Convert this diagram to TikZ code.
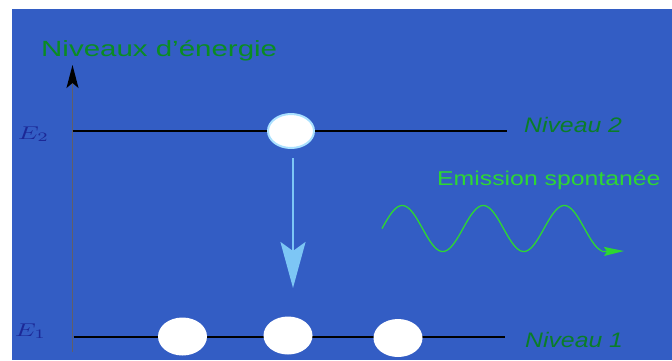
\documentclass[tikz,border=0pt]{standalone}
\usepackage{fontspec}
\setmainfont{Liberation Sans}
\usepackage{graphicx}
\usetikzlibrary{arrows.meta,shapes.geometric}
\definecolor{bgblue}{RGB}{51,93,196}
\definecolor{titlegreen}{RGB}{10,140,35}
\definecolor{levelgreen}{RGB}{10,125,40}
\definecolor{emitgreen}{RGB}{45,215,50}
\definecolor{elabel}{RGB}{28,40,150}
\definecolor{arrowblue}{RGB}{125,198,245}
\definecolor{glow}{RGB}{170,225,255}
\definecolor{axisgrey}{RGB}{95,95,105}
\newcommand{\hsx}[2]{\scalebox{#1}[1]{#2}}
\tikzset{
  lbl/.style={inner sep=0pt, anchor=base west},
  levelline/.style={draw=black, line width=1.8pt},
  electron/.style={ellipse, fill=white, inner sep=0pt, minimum width=49pt, minimum height=38pt},
  excited/.style={electron, draw=glow, line width=2pt, minimum width=46pt, minimum height=34pt},
}
\begin{document}
\begin{tikzpicture}[x=1pt,y=-1pt]
\useasboundingbox (0,0) rectangle (672,360);
\fill[bgblue] (12,9) rectangle (672,360);
% axis
\coordinate (ax0) at (72.5,352);
\coordinate (ax1) at (72.5,65);
\draw[axisgrey, line width=1.3pt, -{Stealth[length=23pt,width=12pt,inset=5pt,black]}] (ax0) -- (ax1);
\node[lbl, text=titlegreen, font=\fontsize{22}{26}\selectfont] (title) at (41,56.5) {\hsx{1.34}{Niveaux d’énergie}};
% levels
\coordinate (l2a) at (72.5,131);
\coordinate (l2b) at (507,131);
\coordinate (l1a) at (73.5,337);
\coordinate (l1b) at (505,337);
\draw[levelline] (l2a) -- (l2b);
\draw[levelline] (l1a) -- (l1b);
\node[lbl, text=elabel] (E2) at (18,139) {\scalebox{2.6}[1.85]{$E_2$}};
\node[lbl, text=elabel] (E1) at (15,336) {\scalebox{2.6}[1.85]{$E_1$}};
\node[lbl, text=levelgreen, font=\fontsize{21}{24}\itshape] (n2) at (524,132) {\hsx{1.18}{Niveau 2}};
\node[lbl, text=levelgreen, font=\fontsize{21}{24}\itshape] (n1) at (525,347) {\hsx{1.18}{Niveau 1}};
% electrons
\node[excited] (up) at (291,131) {};
\node[electron] (d1) at (182.5,336.5) {};
\node[electron] (d2) at (288,335.5) {};
\node[electron] (d3) at (398,338) {};
% transition arrow
\coordinate (t0) at (293,158);
\coordinate (t1) at (293,288);
\draw[arrowblue, line width=2.6pt, -{Stealth[length=46pt,width=25pt,inset=9pt]}] (t0) -- (t1);
% emission
\node[lbl, text=emitgreen, font=\fontsize{20}{24}\selectfont] (em) at (437,185) {\hsx{1.24}{Emission spontanée}};
\coordinate (w0) at (382,228.5);
\coordinate (w1) at (602,251.5);
\coordinate (w2) at (624,251);
\draw[emitgreen, line width=1.3pt] plot[domain=382:602, samples=160, smooth] (\x, {228.5-23*sin(4.4444*(\x-382))});
\draw[emitgreen, line width=1.3pt, -{Stealth[length=20pt,width=9pt,inset=3pt]}] (w1) -- (w2);
\end{tikzpicture}
\end{document}
